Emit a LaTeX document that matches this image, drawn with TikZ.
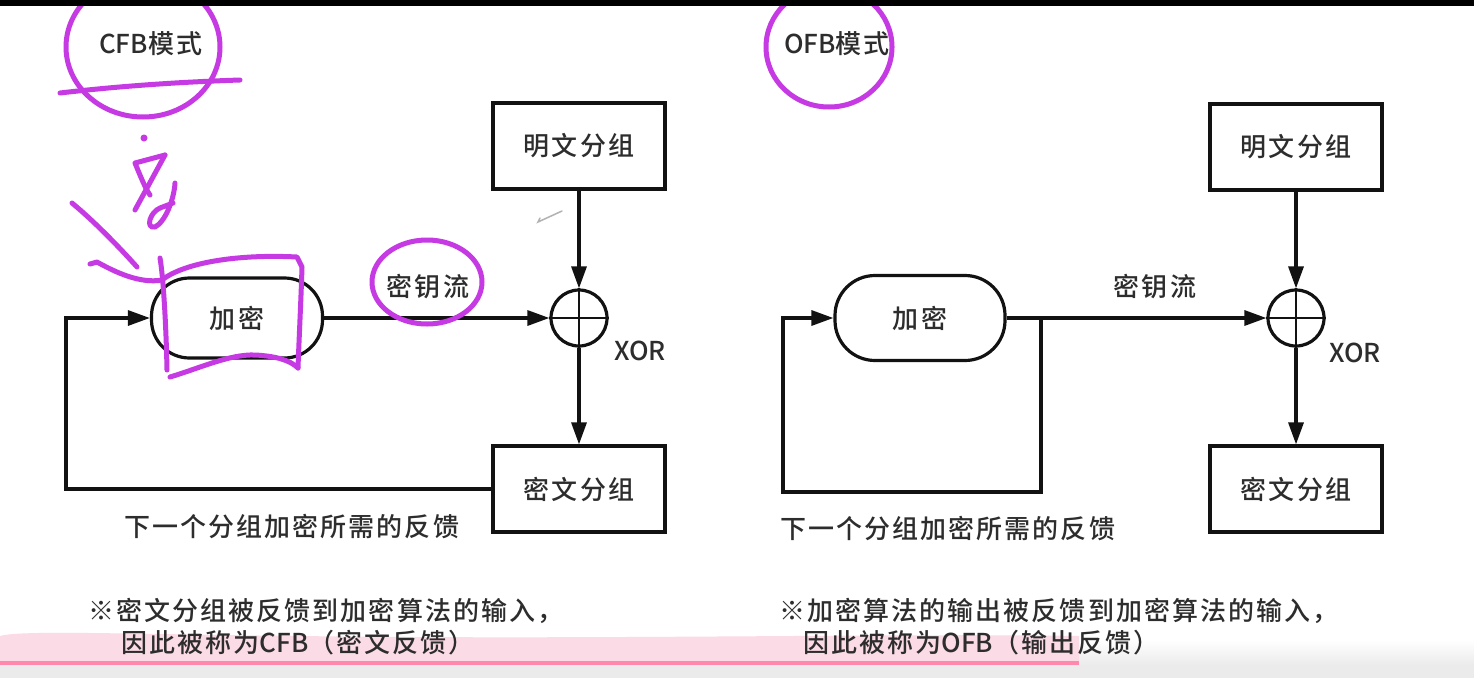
\documentclass[tikz,border=0pt]{standalone}
\usepackage{fontspec}
\setmainfont{Noto Sans CJK SC}[UprightFont=* Medium, LetterSpace=8]
\newfontfamily\latinpart{Noto Sans CJK SC}[UprightFont=* Medium]
\usetikzlibrary{arrows.meta,shapes.geometric,calc}

\definecolor{ink}{RGB}{18,18,18}
\definecolor{txt}{RGB}{45,45,45}
\definecolor{penviolet}{RGB}{198,58,228}
\definecolor{hilite}{RGB}{251,219,229}
\definecolor{hiline}{RGB}{255,136,172}
\definecolor{basegray}{RGB}{235,235,235}

\tikzset{
  lbl/.style={inner sep=0pt, text=txt, font=\fontsize{26}{30}\selectfont},
  blockbox/.style={lbl, draw=ink, line width=3.2pt, minimum width=172pt, minimum height=86pt},
  pill/.style={lbl, draw=ink, line width=3.2pt, rounded corners=38pt, minimum width=171pt, minimum height=80pt},
  xorc/.style={circle, draw=ink, line width=3.2pt, minimum size=56pt, inner sep=0pt},
  link/.style={draw=ink, line width=3.2pt},
  arr/.style={link, -{Triangle[length=22pt,width=15pt]}},
  scrawl/.style={draw=penviolet, line width=5pt, line cap=round, line join=round},
}
\newcommand\lt[1]{{\latinpart #1}}

\begin{document}
\begin{tikzpicture}[x=1pt,y=-1pt]
\useasboundingbox (0,0) rectangle (1474,678);
\fill[white] (0,0) rectangle (1474,678);

% grey strip at the bottom edge
\shade[top color=white, bottom color=basegray] (0,640) rectangle (1474,665);
\fill[basegray] (0,665) rectangle (1474,678);

% highlighter band and underline
\fill[hilite] (0,636) .. controls (20,630) and (120,634) .. (300,636)
  .. controls (600,640) and (900,633) .. (1079,636) -- (1079,661) -- (0,661) -- cycle;
\fill[hiline] (0,661) rectangle (1079,665);

% ---------- CFB ----------
\node[lbl, anchor=west] (tA) at (99,44) {\lt{CFB}模式};

\node[blockbox] (pA) at (579,146) {明文分组};
\node[pill] (eA) at (237,318) {加密};
\node[xorc] (xA) at (579,318) {};
\node[blockbox] (cA) at (579,489) {密文分组};
\coordinate (fbA) at (66,489);

\draw[link, line width=2.8pt] (xA.north) -- (xA.south) (xA.west) -- (xA.east);
\draw[arr] (pA) -- (xA);
\draw[arr] (eA.east) -- (xA.west);
\draw[arr] (xA) -- (cA);
\draw[arr] (cA.west) -- (fbA) |- (eA.west);

\node[lbl] (kA) at (428,287) {密钥流};
\node[lbl] (xlA) at (640,351) {\lt{XOR}};
\node[lbl, anchor=west] (fA) at (124,527) {下一个分组加密所需的反馈};

\node[lbl, anchor=west] (nA1) at (88,611) {※密文分组被反馈到加密算法的输入，};
\node[lbl, anchor=west] (nA2) at (121,643) {因此被称为\lt{CFB}（密文反馈）};

% ---------- OFB ----------
\node[lbl, anchor=west] (tB) at (784,44) {\lt{OFB}模式};

\node[blockbox] (pB) at (1296,147) {明文分组};
\node[pill, minimum width=170pt, minimum height=85pt, rounded corners=40pt] (eB) at (920,318) {加密};
\node[xorc] (xB) at (1296,318) {};
\node[blockbox] (cB) at (1296,489) {密文分组};
\coordinate (brB) at (1041,318);
\coordinate (fbB) at (783,492);

\draw[link, line width=2.8pt] (xB.north) -- (xB.south) (xB.west) -- (xB.east);
\draw[arr] (pB) -- (xB);
\draw[arr] (eB.east) -- (xB.west);
\draw[arr] (xB) -- (cB);
\draw[arr] (brB) |- (fbB) |- (eB.west);

\node[lbl] (kB) at (1155,287) {密钥流};
\node[lbl] (xlB) at (1355,353) {\lt{XOR}};
\node[lbl, anchor=west] (fB) at (780,529) {下一个分组加密所需的反馈};

\node[lbl, anchor=west] (nB1) at (779,611) {※加密算法的输出被反馈到加密算法的输入，};
\node[lbl, anchor=west] (nB2) at (803,643) {因此被称为\lt{OFB}（输出反馈）};

% faint pencil tick
\draw[gray!60, line width=1.5pt, line cap=round] (540,218) -- (538,222) -- (562,211);

% ---------- hand-drawn pen marks ----------
\draw[scrawl] (143,47) ellipse [x radius=77, y radius=70];
\draw[scrawl] (60,93) .. controls (120,86) and (180,82) .. (240,80);
\fill[penviolet] (144,138) circle (3.5);
% scribbled character
\draw[scrawl] (165,155) -- (135,163) .. controls (140,175) and (145,188) .. (150,195);
\draw[scrawl] (165,155) -- (135,210);
\draw[scrawl] (175,183) .. controls (174,200) and (165,222) .. (155,227)
  .. controls (145,229) and (150,212) .. (160,208) -- (173,203);
% pointer stroke
\draw[scrawl] (72,203) .. controls (95,222) and (120,248) .. (137,267);
\draw[scrawl] (90,264) -- (97,262) .. controls (115,272) and (140,284) .. (162,280);
% box around the encryption step
\draw[scrawl] (162,280) .. controls (185,262) and (240,254) .. (297,257) -- (302,267)
  .. controls (301,300) and (299,340) .. (298,368);
\draw[scrawl] (160,258) .. controls (163,275) and (166,320) .. (167,370);
\draw[scrawl] (170,377) .. controls (200,368) and (230,354) .. (255,355)
  .. controls (275,356) and (290,360) .. (298,368);
% circles round the key stream label and the OFB title
\draw[scrawl] (427,282) ellipse [x radius=55, y radius=42];
\draw[scrawl] (829,47) ellipse [x radius=63, y radius=60];

% top edge bar
\fill[black] (0,0) rectangle (1474,6);
\end{tikzpicture}
\end{document}
